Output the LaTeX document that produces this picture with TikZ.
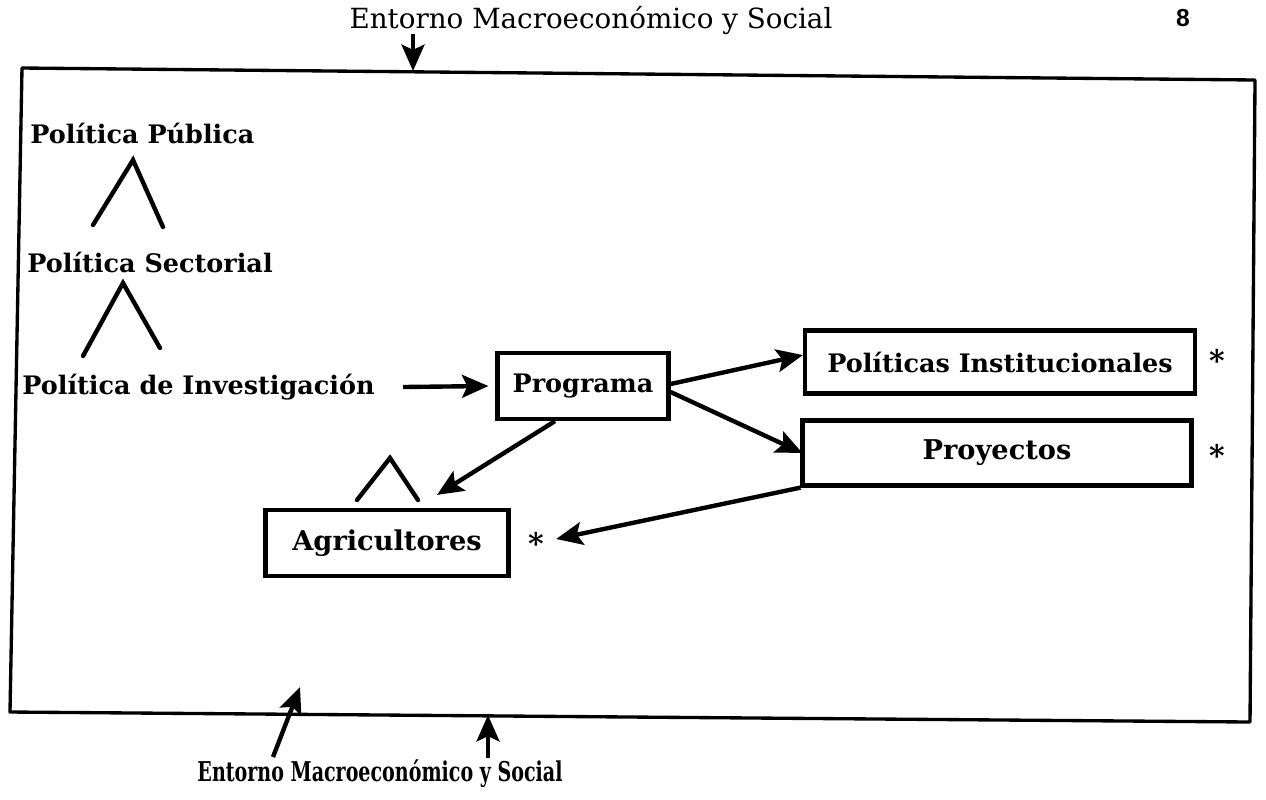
\documentclass[tikz,border=0pt]{standalone}
\usepackage{fontspec}
\setmainfont{DejaVu Serif}
\newfontfamily\numfont{Liberation Sans}
\usetikzlibrary{arrows.meta}
\begin{document}
\begin{tikzpicture}[x=0.02cm,y=-0.02cm,
  lbl/.style={font=\bfseries\fontsize{14.5}{16}\selectfont, inner sep=0pt},
  box/.style={draw, line width=2.4pt, inner sep=0pt, font=\bfseries\fontsize{14.5}{16}\selectfont},
  arr/.style={line width=2.5pt, -{Stealth[length=15pt,width=13pt,inset=3pt]}},
  lam/.style={line width=2.5pt, line cap=round, line join=miter},
  frame/.style={line width=1.9pt, line join=round},
  star/.style={font=\bfseries\fontsize{17}{17}\selectfont, inner sep=0pt}]
\useasboundingbox (0,0) rectangle (1266,799);

% frame
\coordinate (f1) at (22,68);
\coordinate (f2) at (1255,80);
\coordinate (f3) at (1250,722);
\coordinate (f4) at (10,712);
\draw[frame] (f1) -- (f2) -- (f3) -- (f4) -- cycle;

% headings
\node[font=\fontsize{15.8}{17}\selectfont, inner sep=0pt] (top) at (591,20) {Entorno Macroeconómico y Social};
\node[font=\numfont\bfseries\fontsize{14}{14}\selectfont, inner sep=0pt] (pg) at (1183,18) {8};
\node[font=\bfseries\fontsize{15.5}{17}\selectfont, inner sep=0pt] (bot) at (380,774) {\scalebox{0.7}[1]{Entorno Macroeconómico y Social}};

% top arrow
\coordinate (tas) at (413,34);
\coordinate (tae) at (413,71);
\draw[arr] (tas) -- (tae);

% bottom arrows
\coordinate (b1s) at (273,757);
\coordinate (b1e) at (300,687);
\draw[arr] (b1s) -- (b1e);
\coordinate (b2s) at (488,758);
\coordinate (b2e) at (488,715);
\draw[arr] (b2s) -- (b2e);

% left hierarchy
\node[lbl, anchor=west] (pub) at (30,133) {Política Pública};
\node[lbl, anchor=west] (sec) at (27,262) {Política Sectorial};
\node[lbl, anchor=west] (inv) at (22,387) {Política de Investigación};
\draw[lam] (93,225) -- (133,160) -- (163,227);
\draw[lam] (83,356) -- (123,283) -- (160,348);

% boxes
\node[box, minimum width=3.42cm, minimum height=1.32cm] (prog) at (583,386) {Programa};
\node[box, minimum width=7.8cm, minimum height=1.26cm] (pi) at (1000,362) {Políticas Institucionales};
\node[box, font=\bfseries\fontsize{15.5}{17}\selectfont, minimum width=7.78cm, minimum height=1.3cm] (proy) at (997,453) {Proyectos};
\node[box, font=\bfseries\fontsize{15.5}{17}\selectfont, minimum width=4.86cm, minimum height=1.32cm] (agr) at (387,543) {Agricultores};
\draw[lam] (357,500) -- (390,458) -- (418,500);

% stars
\node[star] (s1) at (1217,360) {*};
\node[star] (s2) at (1217,455) {*};
\node[star] (s3) at (536,543) {*};

% connectors
\draw[arr] ([xshift=0.56cm]inv.east) -- ([xshift=-0.14cm]prog.west);
\draw[arr] ([yshift=0.04cm]prog.east) -- ([yshift=0.14cm]pi.west);
\draw[arr] ([yshift=-0.12cm]prog.east) -- ([xshift=0.04cm]proy.west);
\draw[arr] ([xshift=-0.56cm]prog.south) -- ([xshift=1cm,yshift=0.26cm]agr.north);
\draw[arr] (proy.south west) -- ([xshift=0.24cm,yshift=0.08cm]s3.east);
\end{tikzpicture}
\end{document}
